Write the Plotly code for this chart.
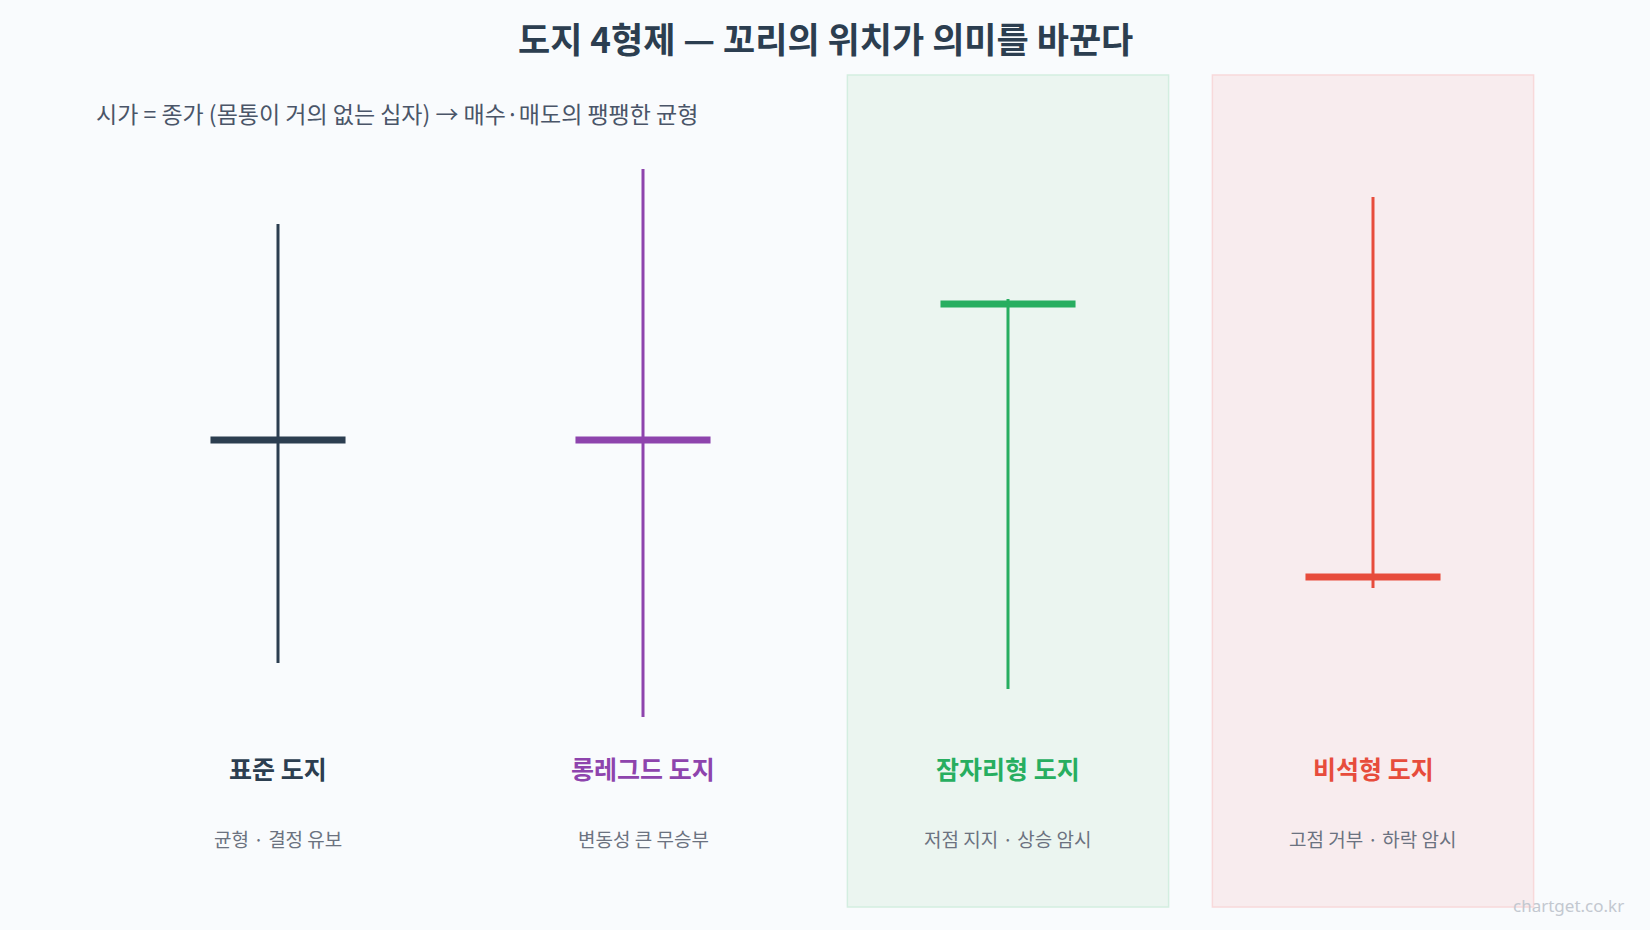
import plotly.graph_objects as go

# ---- data ----
names = ["표준 도지", "롱레그드 도지", "잠자리형 도지", "비석형 도지"]
descs = ["균형 · 결정 유보", "변동성 큰 무승부", "저점 지지 · 상승 암시", "고점 거부 · 하락 암시"]
opens = [100.0, 100.0, 113.6, 86.3]   # open == close (doji)
highs = [121.6, 127.1, 114.1, 124.3]
lows = [77.7, 72.3, 75.1, 85.2]
colors = ["#2c3e50", "#8e44ad", "#27ae60", "#e74c3c"]
highlight = [None, None, ("#ebf5f0", "#d3eee0"), ("#f8ecee", "#f8d9da")]

title = "도지 4형제 — 꼬리의 위치가 의미를 바꾼다"
subtitle = "시가 = 종가 (몸통이 거의 없는 십자) → 매수·매도의 팽팽한 균형"
watermark = "chartget.co.kr"

FONT = "Noto Sans CJK KR"
W, H = 1650, 930
body_half = 0.185
box_half = 0.44

fig = go.Figure()
shapes = []
for i, hl in enumerate(highlight):
    if hl:
        shapes.append(dict(type="rect", xref="x", yref="paper",
                           x0=i - box_half, x1=i + box_half, y0=0.0247, y1=0.9194,
                           fillcolor=hl[0], line=dict(color=hl[1], width=1.5), layer="below"))

for i in range(len(names)):
    # wick
    fig.add_trace(go.Scatter(x=[i, i], y=[lows[i], highs[i]], mode="lines",
                             line=dict(color=colors[i], width=3), hoverinfo="skip", showlegend=False))
    # body (open == close)
    fig.add_trace(go.Scatter(x=[i - body_half, i + body_half], y=[opens[i], opens[i]], mode="lines",
                             line=dict(color=colors[i], width=7), hoverinfo="skip", showlegend=False))

annotations = [
    dict(text=f"<b>{title}</b>", x=0.5, y=1 - 37 / H, xref="paper", yref="paper",
         showarrow=False, font=dict(family=FONT, size=35, color="#2c3e50"), xanchor="center", yanchor="middle"),
    dict(text=subtitle, x=94 / W, y=1 - 113 / H, xref="paper", yref="paper",
         showarrow=False, font=dict(family=FONT, size=23, color="#4a5568"), xanchor="left", yanchor="middle"),
    dict(text=watermark, x=1626 / W, y=1 - 905 / H, xref="paper", yref="paper",
         showarrow=False, font=dict(family="Noto Sans", size=17, color="#c3c8d0"), xanchor="right", yanchor="middle"),
]
for i in range(len(names)):
    annotations.append(dict(text=f"<b>{names[i]}</b>", x=i, y=1 - 768 / H, xref="x", yref="paper",
                            showarrow=False, font=dict(family=FONT, size=25, color=colors[i]),
                            xanchor="center", yanchor="middle"))
    annotations.append(dict(text=descs[i], x=i, y=1 - 838 / H, xref="x", yref="paper",
                            showarrow=False, font=dict(family=FONT, size=19, color="#6b7280"),
                            xanchor="center", yanchor="middle"))

x0 = -278 / 365
fig.update_layout(
    width=W, height=H,
    margin=dict(l=0, r=0, t=0, b=0),
    paper_bgcolor="#f9fbfd", plot_bgcolor="rgba(0,0,0,0)",
    xaxis=dict(range=[x0, x0 + W / 365], visible=False, fixedrange=True),
    yaxis=dict(range=[51, 144], visible=False, fixedrange=True),
    shapes=shapes, annotations=annotations, showlegend=False,
)
fig.write_html("out.html", config={"displayModeBar": False})
